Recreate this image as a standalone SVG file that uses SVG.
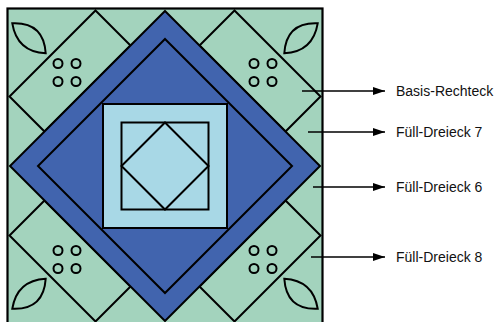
<svg xmlns="http://www.w3.org/2000/svg" width="498" height="322" viewBox="0 0 498 322">
<defs>
<style>
.ln{stroke:#000;stroke-width:2;stroke-linejoin:miter}
.g{fill:#a3d3bd}
.b{fill:#4164ae}
.lb{fill:#a8d8e6}
.c{fill:none;stroke:#000;stroke-width:2}
.cn{stroke:#000;stroke-width:1.3;fill:none}
.lbl{font-family:"Liberation Sans",Arial,sans-serif;font-size:14px;fill:#111}
</style>
<marker id="ah" viewBox="0 0 12 8" refX="12" refY="4" markerWidth="12" markerHeight="8" markerUnits="userSpaceOnUse" orient="auto">
<path d="M0,0 L12,4 L0,8 Z" fill="#000"/>
</marker>
</defs>
<rect width="498" height="322" fill="#fff"/>
<g id="background">
<rect x="7.5" y="8.5" width="315" height="315" class="g"/>
</g>
<g id="basis-rechteck-tl"><polygon points="95.5,10.5 130.5,45.5 44.5,131.5 9.5,96.5" class="g ln"/></g>
<g id="basis-rechteck-tr"><polygon points="234.5,10.5 199.5,45.5 285.5,131.5 320.5,96.5" class="g ln"/></g>
<g id="basis-rechteck-bl"><polygon points="95.5,321.5 130.5,286.5 44.5,200.5 9.5,235.5" class="g ln"/></g>
<g id="basis-rechteck-br"><polygon points="234.5,321.5 199.5,286.5 285.5,200.5 320.5,235.5" class="g ln"/></g>
<g id="fuell-dreieck-6"><polygon points="165,11 320,166 165,321 10,166" class="b ln"/></g>
<g id="fuell-dreieck-7"><polygon points="165,39 292,166 165,293 38,166" class="b ln"/></g>
<g id="light-square"><rect x="103" y="104" width="124" height="124" class="lb ln"/></g>
<g id="inner-square"><rect x="121.5" y="122.5" width="87" height="87" class="lb ln"/></g>
<g id="inner-diamond"><polygon points="165,122.5 208.5,166 165,209.5 121.5,166" class="lb ln"/></g>
<g id="circles-tl"><circle cx="58" cy="63.5" r="4.5" class="c"/><circle cx="76" cy="63.5" r="4.5" class="c"/><circle cx="58" cy="81.5" r="4.5" class="c"/><circle cx="76" cy="81.5" r="4.5" class="c"/></g>
<g id="circles-tr"><circle cx="254" cy="63.5" r="4.5" class="c"/><circle cx="272" cy="63.5" r="4.5" class="c"/><circle cx="254" cy="81.5" r="4.5" class="c"/><circle cx="272" cy="81.5" r="4.5" class="c"/></g>
<g id="circles-bl"><circle cx="58" cy="250.5" r="4.5" class="c"/><circle cx="76" cy="250.5" r="4.5" class="c"/><circle cx="58" cy="268.5" r="4.5" class="c"/><circle cx="76" cy="268.5" r="4.5" class="c"/></g>
<g id="circles-br"><circle cx="254" cy="250.5" r="4.5" class="c"/><circle cx="272" cy="250.5" r="4.5" class="c"/><circle cx="254" cy="268.5" r="4.5" class="c"/><circle cx="272" cy="268.5" r="4.5" class="c"/></g>
<g id="leaf-tl"><path d="M12.3,23.3 Q43.6,21.9 45.7,53.3 Q17,51.7 12.3,23.3 Z" class="g ln"/></g>
<g id="leaf-tr"><path d="M317.7,23.3 Q286.4,21.9 284.3,53.3 Q313,51.7 317.7,23.3 Z" class="g ln"/></g>
<g id="leaf-bl"><path d="M12.3,308.7 Q43.6,310.1 45.7,278.7 Q17,280.3 12.3,308.7 Z" class="g ln"/></g>
<g id="leaf-br"><path d="M317.7,308.7 Q286.4,310.1 284.3,278.7 Q313,280.3 317.7,308.7 Z" class="g ln"/></g>
<g id="border"><rect x="7.5" y="8.5" width="315" height="315" fill="none" stroke="#000" stroke-width="2.2"/></g>
<g id="connectors">
<line x1="302" y1="91" x2="385" y2="91" class="cn" marker-end="url(#ah)"/>
<line x1="308" y1="132" x2="385" y2="132" class="cn" marker-end="url(#ah)"/>
<line x1="313" y1="187" x2="385" y2="187" class="cn" marker-end="url(#ah)"/>
<line x1="311" y1="257" x2="385" y2="257" class="cn" marker-end="url(#ah)"/>
</g>
<g id="label-basis"><text x="396" y="96" class="lbl">Basis-Rechteck</text></g>
<g id="label-7"><text x="396" y="137" class="lbl">Füll-Dreieck 7</text></g>
<g id="label-6"><text x="396" y="192" class="lbl">Füll-Dreieck 6</text></g>
<g id="label-8"><text x="396" y="262" class="lbl">Füll-Dreieck 8</text></g>
</svg>
